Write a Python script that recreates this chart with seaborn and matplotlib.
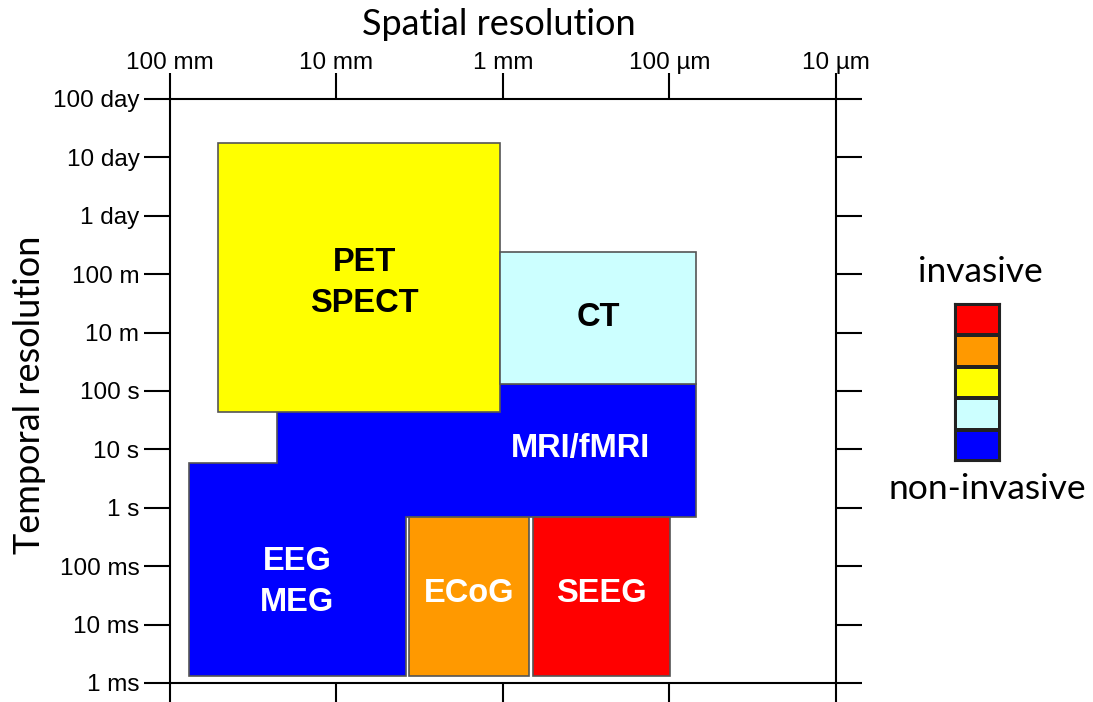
import numpy as np
import matplotlib
matplotlib.use("Agg")
import matplotlib.pyplot as plt
import seaborn as sns
from matplotlib.colors import ListedColormap

# ----------------------------------------------------------------------------------------------------
# data
# ----------------------------------------------------------------------------------------------------
xTickVals = [100, 10, 1, 0.1, 0.01]               # mm
xTickLabels = ["100 mm", "10 mm", "1 mm", "100 µm", "10 µm"]
yTickLabels = ["1 ms", "10 ms", "100 ms", "1 s", "10 s", "100 s",
               "10 m", "100 m", "1 day", "10 day", "100 day"]

# boxes: spatial range in mm, temporal range in tick-index units
boxNames = ["PET\nSPECT", "CT", "ECoG", "SEEG"]
boxXHi = [51.5, 1.04, 3.67, 0.66]
boxXLo = [1.04, 0.069, 0.70, 0.099]
boxYLo = [4.64, 5.12, 0.12, 0.12]
boxYHi = [9.25, 7.38, 2.84, 2.84]
boxColors = ["#FFFF00", "#CCFFFF", "#FF9900", "#FF0000"]
boxTextColors = ["black", "black", "white", "white"]

# MRI + EEG/MEG share one blue region
mriX = [22.8, 0.069]
mriY = [2.84, 5.12]
eegX = [76.9, 3.83]
eegY = [0.12, 3.77]
blue = "#0000FF"

legendColors = ["#FF0000", "#FF9900", "#FFFF00", "#CCFFFF", "#0000FF"]

# ----------------------------------------------------------------------------------------------------
# figure
# ----------------------------------------------------------------------------------------------------
sns.set_theme(style="white")
plt.rcParams["font.family"] = ["Liberation Sans", "DejaVu Sans"]
labelFont = ["Lato", "DejaVu Sans"]

fig = plt.figure(figsize=(10.93, 7.02), dpi=100)
ax = fig.add_axes([0.1555, 0.0271, 0.6093, 0.8319])
ax.set_xscale("log")
ax.set_xlim(100, 0.01)
ax.set_ylim(0, 10)

edge = "#555555"
# blue union of MRI/fMRI and EEG/MEG
unionX = [eegX[0], eegX[1], eegX[1], mriX[1], mriX[1], mriX[0], mriX[0], eegX[0]]
unionY = [eegY[0], eegY[0], mriY[0], mriY[0], mriY[1], mriY[1], eegY[1], eegY[1]]
ax.fill(unionX, unionY, facecolor=blue, edgecolor=edge, linewidth=1.2, zorder=2)

boxFont = dict(fontsize=23.5, fontweight="bold", linespacing=1.4, zorder=4,
               ha="center", va="center")
for i in range(len(boxNames)):
    ax.bar(x=boxXHi[i], width=boxXLo[i] - boxXHi[i], bottom=boxYLo[i],
           height=boxYHi[i] - boxYLo[i], align="edge",
           color=boxColors[i], edgecolor=edge, linewidth=1.2, zorder=3)
    cx = np.sqrt(boxXHi[i] * boxXLo[i])
    cy = (boxYLo[i] + boxYHi[i]) / 2
    if i == 0:
        cx, cy = cx * 0.93, cy - 0.1
    elif i >= 2:
        cy += 0.05
    ax.text(cx, cy, boxNames[i], color=boxTextColors[i], **boxFont)

ax.text(0.34, 4.02, "MRI/fMRI", color="white", **boxFont)
ax.text(np.sqrt(eegX[0] * eegX[1]), 1.73, "EEG\nMEG", color="white", **boxFont)

ax.set_xticks(xTickVals)
ax.set_xticklabels(xTickLabels)
ax.minorticks_off()
ax.set_yticks(range(len(yTickLabels)))
ax.set_yticklabels(yTickLabels)
ax.tick_params(axis="x", top=True, bottom=True, labeltop=True, labelbottom=False)
ax.tick_params(axis="y", left=True, right=True, labelleft=True, labelright=False)
ax.tick_params(direction="out", length=19, width=1.5, color="black",
               labelsize=17.5, labelcolor="black", pad=3)
ax.tick_params(axis="x", pad=-1)
for sp in ax.spines.values():
    sp.set_color("black")
    sp.set_linewidth(1.5)

fig.text(0.4565, 0.9644, "Spatial resolution", ha="center", va="center",
         fontsize=26, color="black", family=labelFont)
fig.text(0.0274, 0.437, "Temporal resolution", ha="center", va="center",
         rotation=90, fontsize=26, color="black", family=labelFont)

# legend strip
lax = fig.add_axes([0.8737, 0.3433, 0.0412, 0.2236])
sns.heatmap(np.arange(len(legendColors)).reshape(-1, 1), ax=lax,
            cmap=ListedColormap(legendColors), cbar=False,
            linewidths=1.5, linecolor="#222222", xticklabels=False, yticklabels=False)
for sp in lax.spines.values():
    sp.set_visible(True)
    sp.set_color("#222222")
    sp.set_linewidth(1.5)
fig.text(0.8966, 0.6125, "invasive", ha="center", va="center",
         fontsize=25.5, color="black", family=labelFont)
fig.text(0.903, 0.3034, "non-invasive", ha="center", va="center",
         fontsize=25.5, color="black", family=labelFont)

fig.savefig("out.png", dpi=100)
plt.close(fig)
